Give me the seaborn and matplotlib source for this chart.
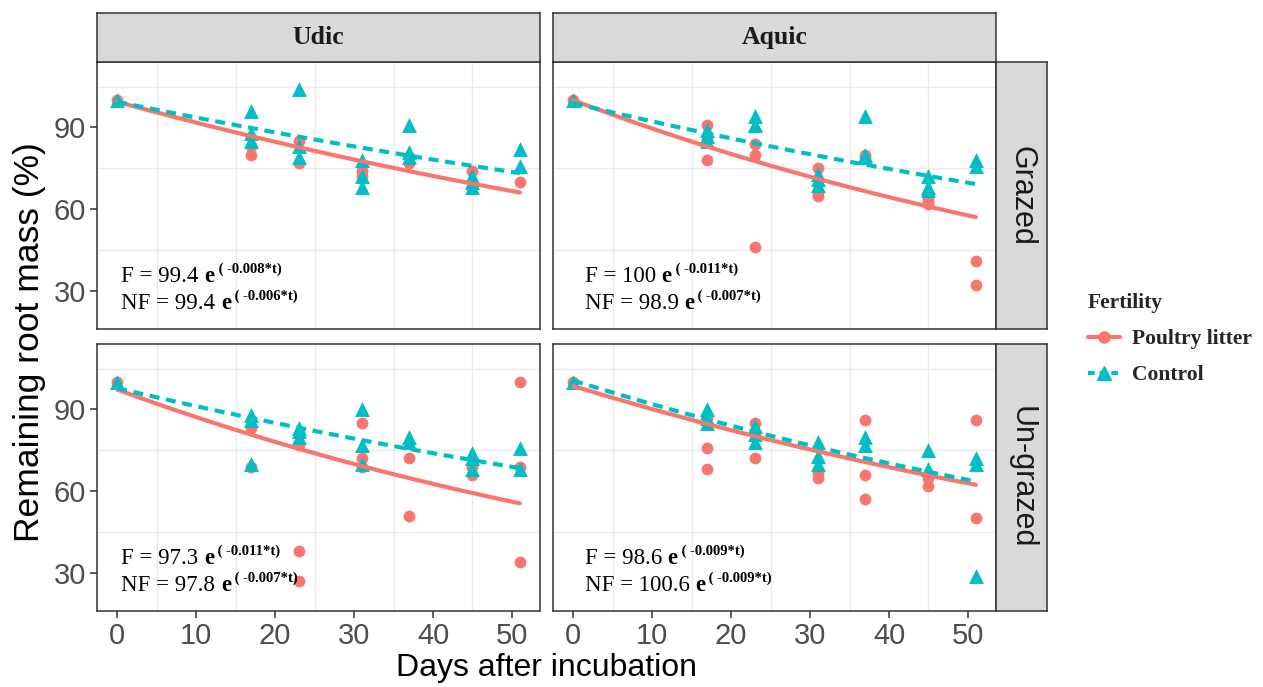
import numpy as np
import pandas as pd
import matplotlib
matplotlib.use("Agg")
import matplotlib.pyplot as plt
from matplotlib.lines import Line2D
from matplotlib.ticker import FixedLocator
import seaborn as sns

# ---------------------------------------------------------------- data
days = [0, 17, 23, 31, 37, 45, 51]
soils = ["Udic", "Aquic"]
managements = ["Grazed", "Un-grazed"]
treatments = ["Poultry litter", "Control"]

# Remaining root mass (%) of each replicate bag, one inner list per sampling day
udic_grazed_litter = [[100], [83, 80], [85, 77], [74, 72], [77], [74, 68], [70]]
udic_grazed_control = [[100], [96, 88, 85], [104, 83, 79], [78, 72, 68], [91, 81, 79], [72, 70, 68], [82, 76]]
aquic_grazed_litter = [[100], [91, 86, 78], [84, 80, 46], [75, 66, 65], [80, 79], [64, 63, 62], [41, 32]]
aquic_grazed_control = [[100], [89, 87, 85], [94, 91, 91], [73, 71, 69], [94, 80, 79], [72, 68, 67], [78, 76]]
udic_ungrazed_litter = [[100], [83, 69], [77, 38, 27], [85, 72, 69], [72, 51], [69, 66], [100, 69, 34]]
udic_ungrazed_control = [[100], [88, 86, 70], [83, 82, 80], [90, 77, 70], [80, 78], [74, 72, 68], [76, 68]]
aquic_ungrazed_litter = [[100], [87, 76, 68], [85, 81, 72], [67, 65], [86, 66, 57], [65, 62], [86, 50]]
aquic_ungrazed_control = [[100], [90, 87, 85], [84, 81, 78], [78, 73, 70], [80, 77], [75, 68], [72, 70, 29]]

# Exponential decay fits  M = a * exp(k * t); panel order:
# Udic-Grazed, Aquic-Grazed, Udic-Un-grazed, Aquic-Un-grazed
litter_a = [99.4, 100, 97.3, 98.6]
litter_k = [-0.008, -0.011, -0.011, -0.009]
control_a = [99.4, 98.9, 97.8, 100.6]
control_k = [-0.006, -0.007, -0.007, -0.009]

panel_series = [
    (udic_grazed_litter, udic_grazed_control),
    (aquic_grazed_litter, aquic_grazed_control),
    (udic_ungrazed_litter, udic_ungrazed_control),
    (aquic_ungrazed_litter, aquic_ungrazed_control),
]

# ---------------------------------------------------------------- tidy tables
rows = []
for p, (lit, ctl) in enumerate(panel_series):
    for trt, reps in zip(treatments, (lit, ctl)):
        for d, vals in zip(days, reps):
            for v in vals:
                rows.append({"panel": p, "Fertility": trt, "Days": d, "Mass": v})
points = pd.DataFrame(rows)

t_curve = np.linspace(0, max(days), 80)
crow = []
for p in range(4):
    for trt, a, k in ((treatments[0], litter_a[p], litter_k[p]),
                      (treatments[1], control_a[p], control_k[p])):
        for t in t_curve:
            crow.append({"panel": p, "Fertility": trt, "Days": t, "Mass": a * np.exp(k * t)})
curves = pd.DataFrame(crow)

# ---------------------------------------------------------------- style
sns.set_theme(style="white")
plt.rcParams["font.family"] = ["Liberation Sans", "DejaVu Sans"]

RED, CYAN = "#F8766D", "#00BFC4"
palette = {"Poultry litter": RED, "Control": CYAN}
markers = {"Poultry litter": "o", "Control": "^"}
msizes = {"Poultry litter": 72, "Control": 115}
DASH = (2.4, 1.6)
LW = 3.0
BORDER = "#333333"
STRIP = "#D9D9D9"
SERIF = ["Liberation Serif", "DejaVu Serif"]

W, H = 1263, 687
fig = plt.figure(figsize=(W / 100, H / 100), dpi=100)


def frac(x0, y0, x1, y1):
    return [x0 / W, 1 - y1 / H, (x1 - x0) / W, (y1 - y0) / H]


col_x = [(97, 540), (553, 996)]
row_y = [(62, 329), (344, 611)]

for p in range(4):
    r, c = divmod(p, 2)
    ax = fig.add_axes(frac(col_x[c][0], row_y[r][0], col_x[c][1], row_y[r][1]))
    ax.set_facecolor("white")

    sub = points[points["panel"] == p]
    for trt in treatments:
        sns.scatterplot(data=sub[sub["Fertility"] == trt], x="Days", y="Mass",
                        color=palette[trt], marker=markers[trt], s=msizes[trt],
                        linewidth=0, ax=ax, legend=False, zorder=3)
    csub = curves[curves["panel"] == p]
    sns.lineplot(data=csub, x="Days", y="Mass", hue="Fertility", style="Fertility",
                 hue_order=treatments, style_order=treatments, palette=palette,
                 dashes={"Poultry litter": "", "Control": DASH}, lw=LW,
                 ax=ax, legend=False, zorder=4)

    ax.set_xlim(-2.55, 53.55)
    ax.set_ylim(16, 114)
    ax.xaxis.set_major_locator(FixedLocator([0, 10, 20, 30, 40, 50]))
    ax.yaxis.set_major_locator(FixedLocator([30, 60, 90]))
    ax.xaxis.set_minor_locator(FixedLocator([5, 15, 25, 35, 45]))
    ax.yaxis.set_minor_locator(FixedLocator([45, 75, 105]))
    ax.grid(False, which="major")
    ax.grid(True, which="minor", color="#EBEBEB", lw=1.0)
    ax.set_axisbelow(True)
    ax.set_xlabel("")
    ax.set_ylabel("")
    for s in ax.spines.values():
        s.set_color(BORDER)
        s.set_linewidth(1.1)
    ax.tick_params(which="minor", length=0)
    ax.tick_params(which="major", length=5, width=1.1, color=BORDER,
                   labelsize=21, labelcolor="#4D4D4D", pad=3)
    ax.tick_params(axis="x", bottom=(r == 1), labelbottom=(r == 1))
    ax.tick_params(axis="y", left=(c == 0), labelleft=(c == 0))

    # fitted equations
    x0 = 0.55 if c == 0 else 1.45
    for yb, lab, a, k in ((33.1, "F", litter_a[p], litter_k[p]),
                          (23.2, "NF", control_a[p], control_k[p])):
        t1 = ax.text(x0, yb, f"{lab} = {a:g} ", fontsize=16.5, family=SERIF,
                     ha="left", va="baseline", color="black")
        t2 = ax.annotate("e", xy=(1, 0), xycoords=t1, ha="left", va="bottom",
                         fontsize=16.5, family=SERIF, weight="bold", color="black")
        ax.annotate(f" ( {k:.3f}*t)", xy=(1, 1), xycoords=t2, xytext=(0, 2.5),
                    textcoords="offset points", ha="left", va="top",
                    fontsize=10.5, family=SERIF, weight="bold", color="black")

# facet strips
for c, name in enumerate(soils):
    sax = fig.add_axes(frac(col_x[c][0], 13, col_x[c][1], 62))
    sax.set_facecolor(STRIP)
    sax.set_xticks([])
    sax.set_yticks([])
    for s in sax.spines.values():
        s.set_color(BORDER)
        s.set_linewidth(1.1)
    sax.text(0.5, 0.5, name, transform=sax.transAxes, ha="center", va="center",
             fontsize=18.5, family=SERIF, weight="bold", color="#1A1A1A")

for r, name in enumerate(managements):
    sax = fig.add_axes(frac(996, row_y[r][0], 1047, row_y[r][1]))
    sax.set_facecolor(STRIP)
    sax.set_xticks([])
    sax.set_yticks([])
    for s in sax.spines.values():
        s.set_color(BORDER)
        s.set_linewidth(1.1)
    sax.text(0.5, 0.5, name, transform=sax.transAxes, ha="center", va="center",
             rotation=-90, fontsize=22, color="#1A1A1A")

# axis titles
fig.text(546.5 / W, 1 - 668 / H, "Days after incubation", ha="center", va="center",
         fontsize=23, color="black")
fig.text(30 / W, 1 - 342 / H, "Remaining root mass (%)", ha="center", va="center",
         rotation=90, fontsize=25.5, color="black")

# legend
handles = [
    Line2D([], [], color=RED, lw=LW, marker="o", ms=8),
    Line2D([], [], color=CYAN, lw=LW, marker="^", ms=9.5, dashes=(1.6, 1.2)),
]
leg = fig.legend(handles, treatments, title="Fertility", loc="upper left",
                 bbox_to_anchor=(1088 / W, 1 - 293 / H), frameon=False,
                 borderpad=0, borderaxespad=0,
                 prop={"family": SERIF, "weight": "bold", "size": 15.5},
                 title_fontproperties={"family": SERIF, "weight": "bold", "size": 15.5},
                 alignment="left", handlelength=1.5, handletextpad=0.55,
                 labelspacing=0.75)

fig.savefig("out.png", dpi=100)
